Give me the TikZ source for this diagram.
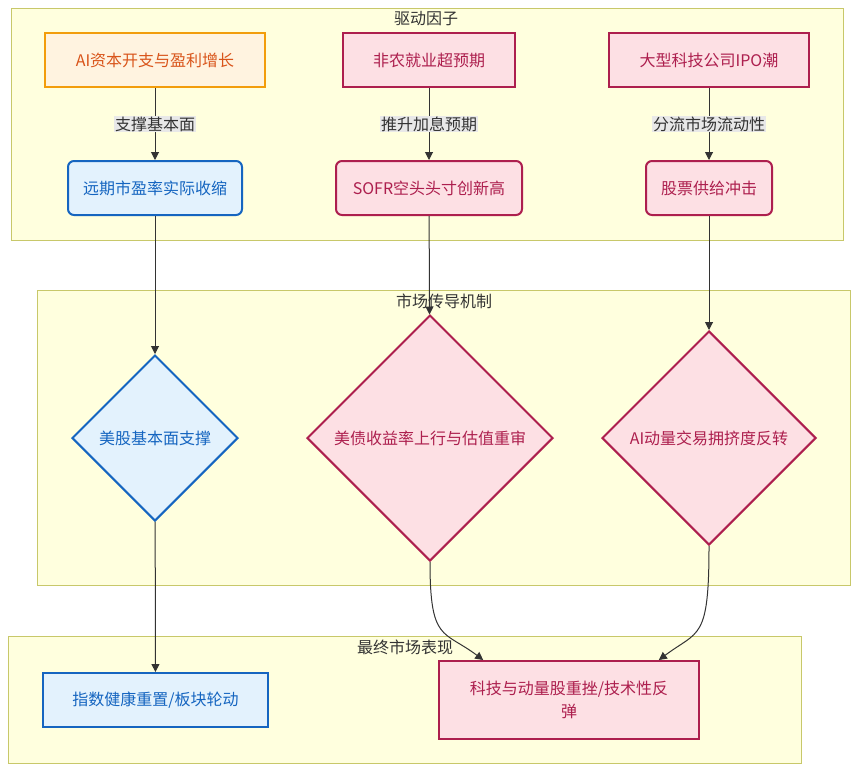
\documentclass[tikz,border=0pt]{standalone}
\usepackage{fontspec}
\setmainfont{Noto Sans CJK SC}
\usetikzlibrary{shapes.geometric,arrows.meta}
\definecolor{grpfill}{HTML}{FFFFDE}
\definecolor{grpline}{HTML}{C8C86A}
\definecolor{pinkfill}{HTML}{FDE0E4}
\definecolor{pinkline}{HTML}{AD1F4E}
\definecolor{bluefill}{HTML}{E3F2FD}
\definecolor{blueline}{HTML}{1565C0}
\definecolor{orgfill}{HTML}{FFF3E0}
\definecolor{orgline}{HTML}{F29D0C}
\definecolor{orgtext}{HTML}{D9541A}
\definecolor{edgecol}{HTML}{333333}
\definecolor{lblfill}{HTML}{E8E8E8}
\tikzset{
  every node/.style={font=\fontsize{16}{23}\selectfont},
  grp/.style={draw=grpline,fill=grpfill,line width=1pt},
  grptitle/.style={text=edgecol,inner sep=0pt},
  box/.style={line width=2pt,inner sep=0pt,minimum height=54pt,align=center},
  pinkbox/.style={box,fill=pinkfill,draw=pinkline,text=pinkline},
  bluebox/.style={box,fill=bluefill,draw=blueline,text=blueline},
  orgbox/.style={box,fill=orgfill,draw=orgline,text=orgtext},
  dia/.style={shape=diamond,aspect=1,inner sep=0pt,line width=2pt},
  pinkdia/.style={dia,fill=pinkfill,draw=pinkline,text=pinkline},
  bluedia/.style={dia,fill=bluefill,draw=blueline,text=blueline},
  edge/.style={draw=edgecol,line width=1pt,->},
  elabel/.style={fill=lblfill,text=edgecol,inner sep=1pt}
}
\begin{document}
\begin{tikzpicture}[x=1pt,y=-1pt,>={Triangle[length=8pt,width=8pt]}]
\useasboundingbox (0,0) rectangle (858,772);
% groups
\draw[grp] (11,8) rectangle (843,240);
\draw[grp] (37,290) rectangle (850,585);
\draw[grp] (8,636) rectangle (801,763);
\node[grptitle] (t1) at (426,19) {驱动因子};
\node[grptitle] (t2) at (444,301) {市场传导机制};
\node[grptitle] (t3) at (405,647) {最终市场表现};
% drivers
\node[orgbox,minimum width=220pt] (capex) at (155,60) {AI资本开支与盈利增长};
\node[pinkbox,minimum width=172pt] (nfp) at (429,60) {非农就业超预期};
\node[pinkbox,minimum width=200pt] (ipo) at (709,60) {大型科技公司IPO潮};
\node[bluebox,rounded corners=6pt,minimum width=174pt] (fpe) at (155,188) {远期市盈率实际收缩};
\node[pinkbox,rounded corners=6pt,minimum width=186pt] (sofr) at (429,188) {SOFR空头头寸创新高};
\node[pinkbox,rounded corners=6pt,minimum width=126pt] (supply) at (709,188) {股票供给冲击};
% mechanism
\node[bluedia,minimum width=166pt,minimum height=166pt] (fund) at (155,438) {美股基本面支撑};
\node[pinkdia,minimum width=246pt,minimum height=246pt] (ust) at (430,438) {美债收益率上行与估值重审};
\node[pinkdia,minimum width=214pt,minimum height=214pt] (crowd) at (709,438) {AI动量交易拥挤度反转};
% outcome
\node[bluebox,minimum width=225pt] (idx) at (155.5,700) {指数健康重置/板块轮动};
\node[pinkbox,minimum width=260pt,minimum height=78pt] (tech) at (569,700) {科技与动量股重挫/技术性反\\弹};
% links
\draw[edge] (capex) -- node[elabel] (l1) {支撑基本面} (fpe);
\draw[edge] (nfp) -- node[elabel] (l2) {推升加息预期} (sofr);
\draw[edge] (ipo) -- node[elabel] (l3) {分流市场流动性} (supply);
\draw[edge] (fpe) -- (fund);
\draw[edge] (sofr) -- (ust);
\draw[edge] (supply) -- (crowd);
\draw[edge] (fund) -- (idx);
\draw[edge] (ust.south) .. controls +(0,80) and +(-40,-30) .. (tech.155.6);
\draw[edge] (crowd.south) .. controls +(0,95) and +(40,-30) .. (tech.24.4);
\end{tikzpicture}
\end{document}
